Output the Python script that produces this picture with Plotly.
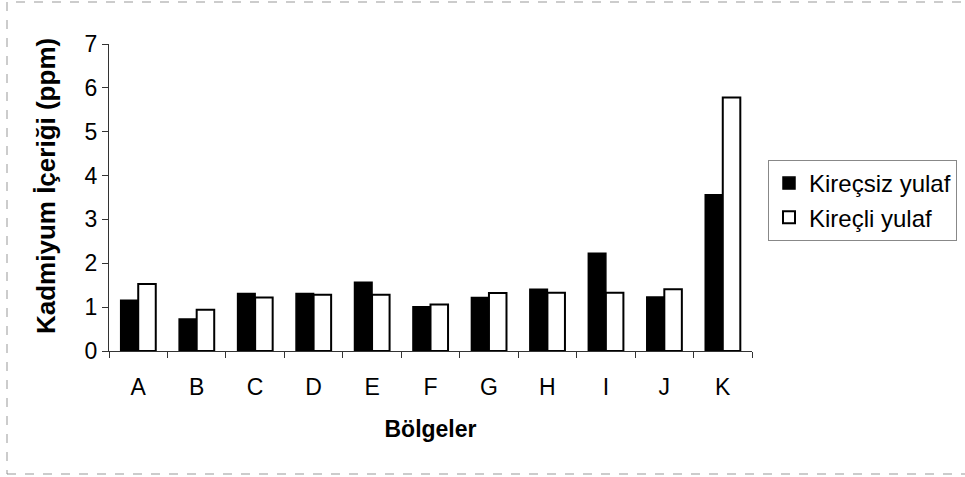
import plotly.graph_objects as go

categories = ["A", "B", "C", "D", "E", "F", "G", "H", "I", "J", "K"]
kirecsiz = [1.16, 0.73, 1.31, 1.31, 1.57, 1.01, 1.22, 1.41, 2.23, 1.23, 3.56]
kirecli = [1.53, 0.94, 1.22, 1.28, 1.28, 1.06, 1.32, 1.33, 1.33, 1.41, 5.78]
y_ticks = [0, 1, 2, 3, 4, 5, 6, 7]

FONT = "Liberation Sans, Arial, sans-serif"

# plot area geometry (pixels)
W, H = 965, 477
L, R, T, B = 109, 213, 44, 126
pw, ph = W - L - R, H - T - B

def px_x(x):
    return (x - L) / pw

def px_y(y):
    return (H - B - y) / ph

fig = go.Figure()
fig.add_trace(go.Bar(
    x=categories, y=kirecsiz, name="Kireçsiz yulaf", legendgroup="a",
    marker=dict(color="black", line=dict(color="black", width=1.5)),
))
fig.add_trace(go.Bar(
    x=categories, y=kirecli, name="Kireçli yulaf", legendgroup="b",
    marker=dict(color="white", line=dict(color="black", width=2)),
))

fig.update_layout(
    width=W, height=H,
    margin=dict(l=L, r=R, t=T, b=B, autoexpand=False),
    paper_bgcolor="white", plot_bgcolor="white",
    barmode="group", bargap=0.40, bargroupgap=0,
    font=dict(family=FONT, size=23, color="black"),
    showlegend=True,
    legend=dict(
        x=px_x(768), y=px_y(160), xanchor="left", yanchor="top",
        bordercolor="#888", borderwidth=1, bgcolor="white",
        font=dict(size=24), tracegroupgap=4, itemwidth=30,
        traceorder="normal",
    ),
    xaxis=dict(
        showline=True, linecolor="#333", linewidth=1,
        ticks="outside", ticklen=6, tickcolor="#333", tickson="boundaries",
        showgrid=False, zeroline=False,
        tickfont=dict(size=23), ticklabelstandoff=15,
        title=dict(text="<b>Bölgeler</b>", font=dict(size=23), standoff=22),
    ),
    yaxis=dict(
        range=[0, 7], tickvals=y_ticks, ticktext=[str(v) for v in y_ticks],
        showline=True, linecolor="#333", linewidth=1,
        ticks="outside", ticklen=6, tickcolor="#333",
        showgrid=False, zeroline=False,
        tickfont=dict(size=23),
    ),
    annotations=[dict(
        text="<b>Kadmiyum İçeriği (ppm)</b>", textangle=-90,
        xref="paper", yref="paper", x=px_x(46), y=px_y(186),
        xanchor="center", yanchor="middle", showarrow=False,
        font=dict(size=26),
    )],
    shapes=[dict(
        type="rect", xref="paper", yref="paper",
        x0=px_x(7), x1=px_x(968), y0=px_y(474), y1=px_y(2),
        line=dict(color="#999", width=1, dash="dash"),
        fillcolor="rgba(0,0,0,0)", layer="below",
    )],
)

fig.write_html(
    "out.html",
    config={"displayModeBar": False},
    post_script="document.body.style.margin='0';document.body.style.overflow='hidden';",
)
